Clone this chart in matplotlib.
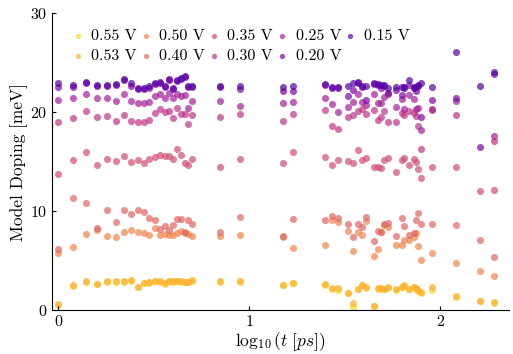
import numpy as np
import matplotlib
matplotlib.use("Agg")
import matplotlib.pyplot as plt

plt.rcParams['font.family'] = 'serif'
plt.rcParams['font.serif'] = ['cmr10']
plt.rcParams['mathtext.fontset'] = 'cm'
plt.rcParams['axes.unicode_minus'] = False
plt.rcParams['axes.formatter.use_mathtext'] = True

t_ps = [1, 1.2, 1.4, 1.6, 1.8, 2.0, 2.2, 2.4, 2.6, 2.8, 3.0, 3.2, 3.4, 3.6, 3.8, 4.0, 4.2, 4.4, 4.6, 4.8,
        5.0, 7, 9, 15, 17, 25, 27, 29, 33, 35, 37, 39, 41, 45, 47, 49, 51, 53, 59, 63,
        65, 69, 73, 75, 77, 79, 91, 121, 161, 191]

nan = np.nan
s015 = [22.9, 22.7, 23.0, 22.7, 22.7, 22.8, 23.3, 22.9, 22.4, 22.4,
        22.6, 22.9, 23.0, 22.6, 23.3, 22.4, 23.2, 23.4, 23.6, 22.6,
        22.6, 22.6, 22.6, 22.5, 22.6, 22.8, 22.5, 22.5, 22.6, 22.9,
        23.0, 22.6, 22.6, 22.9, 22.8, 22.7, 22.7, 22.4, 22.5, 22.5,
        22.5, 23.2, 22.5, 22.5, 22.7, 22.9, 22.5, 26.1, 22.6, 24.1]
s020 = [22.5, 22.5, 22.9, 22.6, 22.6, 22.7, 23.2, 22.6, 22.3, 22.3,
        22.4, 22.8, 22.9, 22.5, 23.2, 22.3, 23.1, 23.3, 23.5, 22.5,
        22.5, 22.5, 22.35, 22.1, 22.1, 22.7, 22.4, 22.4, 21.6, 22.2,
        22.9, 22.5, 21.2, 22.8, 22.7, 22.4, 22.6, 21.9, 22.2, 21.7,
        22.4, 22.7, 22.4, 22.1, 22.6, 19.55, 21.2, 21.4, 16.5, 23.8]
s025 = [21.2, 21.4, 21.8, 21.4, 21.4, 21.1, 21.8, 21.1, 20.9, 20.9,
        21.0, 21.6, 21.8, 21.4, 21.9, 21.4, 21.8, 21.6, 21.7, 20.4,
        21.1, 21.1, 20.6, 20.9, 21.0, 21.4, 20.8, 20.0, 20.5, 21.0,
        21.8, 21.0, 20.7, 21.8, 20.9, 20.9, 21.5, 21.8, 20.5, 21.3,
        20.3, 21.7, 21.3, 20.3, 20.4, 18.2, 20.3, 21.1, nan, 17.6]
s030 = [19.0, 19.4, 20.1, 19.5, 19.6, 19.1, 19.7, 19.1, 19.0, 19.05,
        19.2, 19.9, 20.3, 20.0, 20.1, 19.4, 20.4, 19.8, 19.8, 18.75,
        19.7, 19.5, 19.8, 19.1, 19.8, 20.2, 18.6, 18.3, 19.5, 19.7,
        20.1, 20.3, 19.8, 20.2, 19.2, 19.55, 20.1, 19.05, 19.0, 19.9,
        19.7, 20.1, 19.9, 19.6, 18.6, 16.3, 20.2, 19.7, nan, 17.1]
s035 = [13.7, 15.2, 16.0, 14.7, 15.3, 15.05, 15.6, 15.0, 15.2, 14.85,
        15.3, 15.5, 15.7, 15.6, 15.6, 15.3, 16.3, 15.65, 14.9, 14.7,
        15.3, 14.5, 15.3, 14.9, 16.0, 15.5, 14.7, 15.2, 15.05, 14.85,
        16.2, 15.15, 15.35, 14.5, 14.5, 14.35, 15.15, 15.4, 14.0, 15.2,
        15.4, 14.7, 15.3, 15.0, 14.3, 13.3, 14.5, 14.5, 12.05, 12.1]
s040 = [6.2, 11.3, 10.8, 8.3, 10.1, 8.9, 10.1, 9.7, 10.1, 9.9,
        9.35, 9.1, 8.2, 8.5, 8.1, 8.6, 9.2, 9.2, 7.85, 9.15,
        8.65, 7.9, 9.45, 7.45, 9.2, 9.1, 9.55, 9.35, 8.7, 7.4,
        8.7, 8.35, 9.4, 7.0, 7.95, 7.9, 8.65, 8.8, 7.5, 9.35,
        8.5, 7.6, 7.8, 9.1, 9.8, 8.7, 8.7, 8.6, 7.1, 5.35]
s050 = [5.8, 6.4, 7.7, 8.1, 7.5, 7.4, 7.9, 8.05, 7.9, 7.75,
        7.6, 8.3, 7.6, 7.7, 7.6, 7.6, 7.75, 8.0, 7.8, 7.65,
        7.5, 7.45, 7.6, 7.4, 6.3, 6.6, 9.1, 8.9, 8.0, 6.0,
        7.9, 7.55, 8.95, 5.45, 6.15, 7.85, 8.6, 8.4, 6.6, 6.6,
        7.05, 7.05, 7.4, 7.8, 6.5, 5.1, 5.8, 4.8, 3.9, 3.4]
s053 = [0.6, 2.5, 2.9, 2.6, 2.9, 2.9, 2.9, 3.0, 2.35, 2.75,
        2.8, 2.95, 2.9, 2.7, 2.95, 2.9, 2.95, 2.9, 2.85, 2.85,
        3.0, 2.9, 2.9, 2.55, 2.75, 2.6, 2.2, 2.2, 1.75, 0.7,
        2.15, 2.55, 2.3, 0.45, 2.2, 2.2, 2.15, 2.3, 2.15, 2.35,
        2.5, 2.15, 2.35, 2.2, 2.0, 1.8, 2.3, 1.4, 0.95, 0.8]
s055 = [0.5, 2.4, 2.8, 2.6, 2.8, 2.8, 2.8, 2.9, 2.3, 2.7,
        2.75, 2.9, 2.85, 2.65, 2.9, 2.85, 2.9, 2.85, 2.8, 2.8,
        2.95, 2.85, 2.85, 2.5, 2.7, 2.55, 2.15, 2.0, 1.7, 0.3,
        2.1, 2.5, 2.25, 0.4, 2.1, 2.15, 2.1, 2.25, 2.0, 2.3,
        2.45, 2.1, 2.3, 2.15, 1.95, 1.75, 2.0, 1.35, 0.9, 0.75]

labels = ['0.55 V', '0.53 V', '0.50 V', '0.40 V', '0.35 V', '0.30 V', '0.25 V', '0.20 V', '0.15 V']
series = [s055, s053, s050, s040, s035, s030, s025, s020, s015]
cmap_pos = [0.92, 0.82, 0.70, 0.60, 0.52, 0.44, 0.36, 0.26, 0.15]

x = np.log10(np.array(t_ps))

fig = plt.figure(figsize=(5.13, 3.54), dpi=100)
ax = fig.add_axes([0.101, 0.124, 0.891, 0.839])
cmap = plt.get_cmap('plasma')
for lab, ys, cp in zip(labels, series, cmap_pos):
    ax.scatter(x, ys, s=26, color=cmap(cp), alpha=0.7, linewidths=0, label=lab)

ax.set_xlim(-0.034, 2.36)
ax.set_ylim(0, 30)
ax.set_xticks([0, 1, 2])
ax.set_yticks([0, 10, 20, 30])
ax.spines['top'].set_visible(False)
ax.spines['right'].set_visible(False)
ax.tick_params(direction='in', length=3, labelsize=11.5, pad=3)
ax.set_xlabel(r'$\log_{10}(t\ [ps])$', fontsize=12.5, labelpad=1)
ax.set_ylabel('Model Doping [meV]', fontsize=12.5, labelpad=1.5)

ax.legend(ncol=5, loc='upper left', bbox_to_anchor=(0.018, 0.985), frameon=False,
          fontsize=11.5, markerscale=0.75, handlelength=0.8, handletextpad=0.45,
          columnspacing=0.15, labelspacing=0.38, borderpad=0.2)

fig.savefig('out.png', dpi=100)
